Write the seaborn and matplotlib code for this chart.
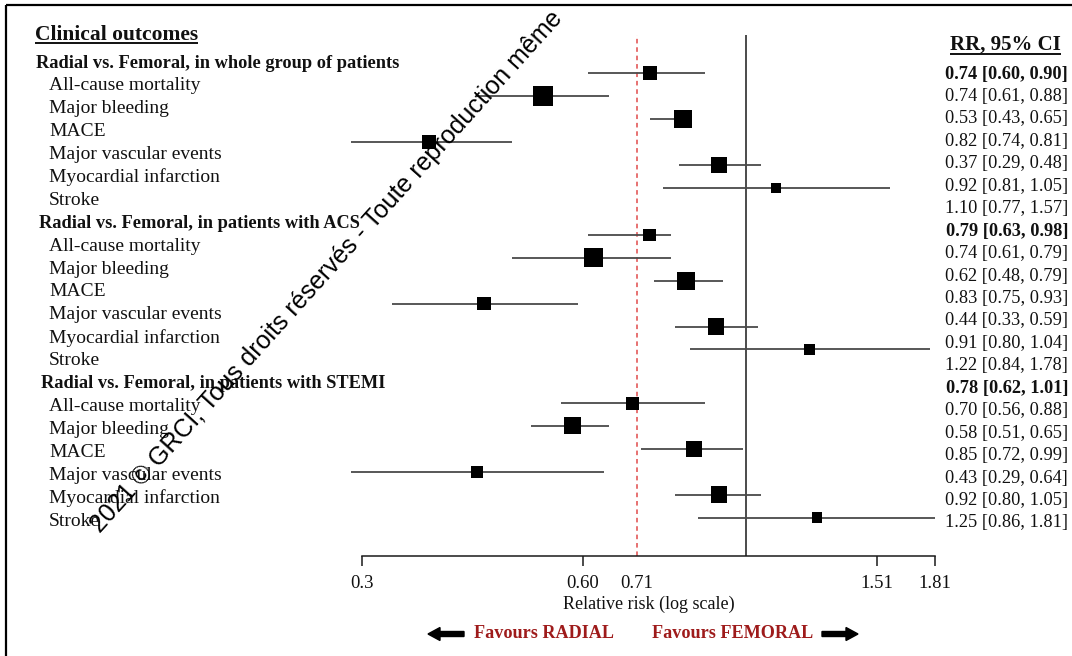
import matplotlib
matplotlib.use("Agg")
import matplotlib.pyplot as plt
from matplotlib.patches import FancyArrow
from matplotlib.ticker import NullLocator
import pandas as pd
import seaborn as sns

# ---------------- data ----------------
groups = [
    "Radial vs. Femoral, in whole group of patients",
    "Radial vs. Femoral, in patients with ACS",
    "Radial vs. Femoral, in patients with STEMI",
]
outcomes = ["All-cause mortality", "Major bleeding", "MACE",
            "Major vascular events", "Myocardial infarction", "Stroke"]

pooled_rr = [0.74, 0.79, 0.78]
pooled_lo = [0.60, 0.63, 0.62]
pooled_hi = [0.90, 0.98, 1.01]

rr_whole = [0.74, 0.53, 0.82, 0.37, 0.92, 1.10]
lo_whole = [0.61, 0.43, 0.74, 0.29, 0.81, 0.77]
hi_whole = [0.88, 0.65, 0.81, 0.48, 1.05, 1.57]

rr_acs = [0.74, 0.62, 0.83, 0.44, 0.91, 1.22]
lo_acs = [0.61, 0.48, 0.75, 0.33, 0.80, 0.84]
hi_acs = [0.79, 0.79, 0.93, 0.59, 1.04, 1.78]

rr_stemi = [0.70, 0.58, 0.85, 0.43, 0.92, 1.25]
lo_stemi = [0.56, 0.51, 0.72, 0.29, 0.80, 0.86]
hi_stemi = [0.88, 0.65, 0.99, 0.64, 1.05, 1.81]

# relative weight of each estimate (box area)
w_whole = [49, 100, 81, 46, 64, 25]
w_acs = [42, 90, 81, 46, 68, 28]
w_stemi = [42, 72, 60, 33, 68, 28]

x_ticks = [0.3, 0.60, 0.71, 1.51, 1.81]
x_tick_labels = ["0.3", "0.60", "0.71", "1.51", "1.81"]
ref_rr = 0.71
null_rr = 1.0

# ---------------- layout (pixels, y downwards) ----------------
W, H = 1072, 656
LABEL_Y0, LABEL_DY = 63, 22.9      # left-hand label rows
COL_Y0, COL_DY = 74, 22.45         # RR, 95% CI column rows
point_shift = [0.56, 0.49, 0.15]   # boxes sit slightly above their label row
header_x = [36, 39, 41]
OUT_X = 49
COL_X = 1068
AX_L, AX_R, AX_T, AX_B = 362, 935, 35, 556

INK = "#111111"
RED_TXT = "#9e1b1b"

sns.set_theme(style="white")
plt.rcParams["font.family"] = ["Liberation Serif", "DejaVu Serif"]
plt.rcParams["text.color"] = INK

rows = []
series = [(rr_whole, lo_whole, hi_whole, w_whole),
          (rr_acs, lo_acs, hi_acs, w_acs),
          (rr_stemi, lo_stemi, hi_stemi, w_stemi)]
for g, (rr, lo, hi, wt) in enumerate(series):
    for j, name in enumerate(outcomes):
        k = 7 * g + 1 + j
        rows.append(dict(group=groups[g], outcome=name, rr=rr[j], lo=lo[j],
                         hi=hi[j], weight=wt[j],
                         y=LABEL_Y0 + LABEL_DY * (k - point_shift[g])))
df = pd.DataFrame(rows)

fig = plt.figure(figsize=(W / 100, H / 100), dpi=100)
fig.patch.set_facecolor("white")

# background canvas in pixel units for all table text
bg = fig.add_axes([0, 0, 1, 1])
bg.set_xlim(0, W)
bg.set_ylim(H, 0)
bg.axis("off")

# frame
bg.plot([6, 6], [5, H], color="black", lw=1.6, solid_capstyle="butt")
bg.plot([6, W], [5, 5], color="black", lw=1.6, solid_capstyle="butt")

# ---------------- forest panel ----------------
ax = fig.add_axes([AX_L / W, 1 - AX_B / H, (AX_R - AX_L) / W, (AX_B - AX_T) / H])
ax.patch.set_alpha(0)
ax.set_xscale("log")
ax.set_xlim(0.3, 1.81)
ax.set_ylim(AX_B, AX_T)

ax.axvline(null_rr, color="#1a1a1a", lw=1.1, zorder=1)
ax.axvline(ref_rr, color="#e04a4a", lw=1.1, ls=(0, (3, 2.5)), zorder=1)
ax.hlines(df["y"], df["lo"], df["hi"], color="#4a4a4a", lw=1.3, zorder=2,
          clip_on=False)
sns.scatterplot(data=df, x="rr", y="y", size="weight", sizes=(0, 207),
                size_norm=(0, 100), marker="s", color="black", linewidth=0,
                legend=False, ax=ax, zorder=3, clip_on=False)

for s in ["top", "right", "left"]:
    ax.spines[s].set_visible(False)
ax.spines["bottom"].set_color("#1a1a1a")
ax.spines["bottom"].set_linewidth(1.1)
ax.set_yticks([])
ax.set_xticks(x_ticks)
ax.set_xticklabels(x_tick_labels)
ax.xaxis.set_minor_locator(NullLocator())
ax.tick_params(axis="x", bottom=True, direction="out", length=7, width=1.1,
               pad=7, labelsize=13.5, colors="#1a1a1a", labelcolor=INK)
for t, v in zip(ax.xaxis.get_major_ticks(), x_ticks):
    if v == ref_rr:
        t.tick1line.set_visible(False)
ax.set_ylabel("")
ax.set_xlabel("Relative risk (log scale)", fontsize=13, labelpad=2, color=INK)

# ---------------- table text ----------------
title = bg.text(35, 40, "Clinical outcomes", fontsize=15.5, fontweight="bold",
                va="baseline", ha="left")
rr_head = bg.text(1061, 50, "RR, 95% CI", fontsize=15, fontweight="bold",
                  va="baseline", ha="right")

for g in range(3):
    k0 = 7 * g
    bg.text(header_x[g], LABEL_Y0 + LABEL_DY * k0, groups[g], fontsize=13.2,
            fontweight="bold", va="center", ha="left")
    bg.text(COL_X, COL_Y0 + COL_DY * k0,
            f"{pooled_rr[g]:.2f} [{pooled_lo[g]:.2f}, {pooled_hi[g]:.2f}]",
            fontsize=13.2, fontweight="bold", va="center", ha="right")
    sub = df[df["group"] == groups[g]].reset_index(drop=True)
    for j, r in sub.iterrows():
        k = k0 + 1 + j
        bg.text(OUT_X, LABEL_Y0 + LABEL_DY * k, r["outcome"], fontsize=14.0,
                va="center", ha="left")
        bg.text(COL_X, COL_Y0 + COL_DY * k,
                f"{r['rr']:.2f} [{r['lo']:.2f}, {r['hi']:.2f}]",
                fontsize=13.2, va="center", ha="right")

# direction captions
bg.text(544, 634, "Favours RADIAL", fontsize=13.1, fontweight="bold",
        color=RED_TXT, ha="center", va="center")
bg.text(733, 634, "Favours FEMORAL", fontsize=13.1, fontweight="bold",
        color=RED_TXT, ha="center", va="center")
bg.add_patch(FancyArrow(464, 634, -36, 0, width=5, head_width=13,
                        head_length=12, length_includes_head=True,
                        color="black"))
bg.add_patch(FancyArrow(822, 634, 36, 0, width=5, head_width=13,
                        head_length=12, length_includes_head=True,
                        color="black"))

# underline the two column headings
fig.canvas.draw()
renderer = fig.canvas.get_renderer()
for t, y in [(title, 43), (rr_head, 54)]:
    bb = t.get_window_extent(renderer)
    bg.plot([bb.x0, bb.x1], [y, y], color=INK, lw=1.4, solid_capstyle="butt")

# copyright overlay
over = fig.add_axes([0, 0, 1, 1], zorder=5)
over.set_xlim(0, W)
over.set_ylim(H, 0)
over.axis("off")
over.text(100, 534,
          "2021 © GRCI, Tous droits réservés - Toute reproduction même",
          rotation=48, rotation_mode="anchor", ha="left", va="baseline",
          fontsize=18, family="Liberation Sans", color="black")

fig.savefig("out.png", dpi=100, facecolor="white")
